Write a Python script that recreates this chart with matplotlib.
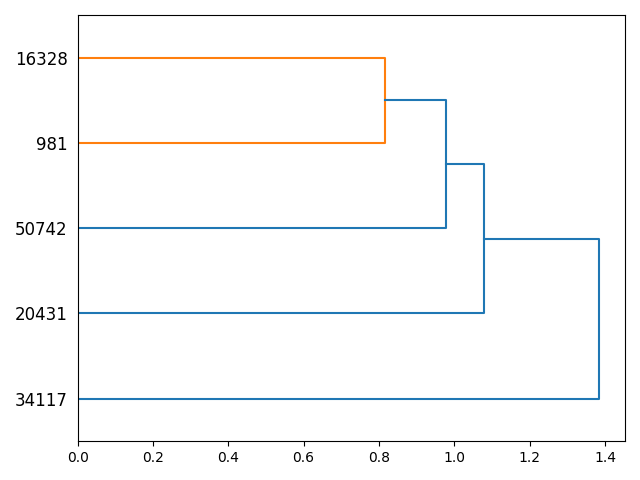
import matplotlib
matplotlib.use('Agg')
import matplotlib.pyplot as plt

# leaf labels, bottom to top
leaves = ['34117', '20431', '50742', '981', '16328']
# merges: (child a, child b) by node id; new node ids start at len(leaves)
merges = [(4, 3), (5, 2), (6, 1), (7, 0)]
merge_heights = [0.815, 0.977, 1.078, 1.384]

threshold = 0.7 * max(merge_heights)

fig, ax = plt.subplots(figsize=(6.4, 4.8), dpi=100)

pos = {i: 5 + 10 * i for i in range(len(leaves))}
height = {i: 0.0 for i in range(len(leaves))}
for k, ((a, b), h) in enumerate(zip(merges, merge_heights)):
    node = len(leaves) + k
    color = 'C1' if h < threshold else 'C0'
    ax.plot([height[a], h, h, height[b]], [pos[a], pos[a], pos[b], pos[b]], color=color, linewidth=1.5 if False else None)
    pos[node] = (pos[a] + pos[b]) / 2
    height[node] = h

ax.set_ylim(0, 10 * len(leaves))
ax.set_xlim(0, max(merge_heights) * 1.05)
ax.set_yticks([pos[i] for i in range(len(leaves))])
ax.set_yticklabels(leaves, fontsize=12)
for line in ax.get_yticklines():
    line.set_visible(False)

plt.tight_layout()
plt.savefig('out.png')
